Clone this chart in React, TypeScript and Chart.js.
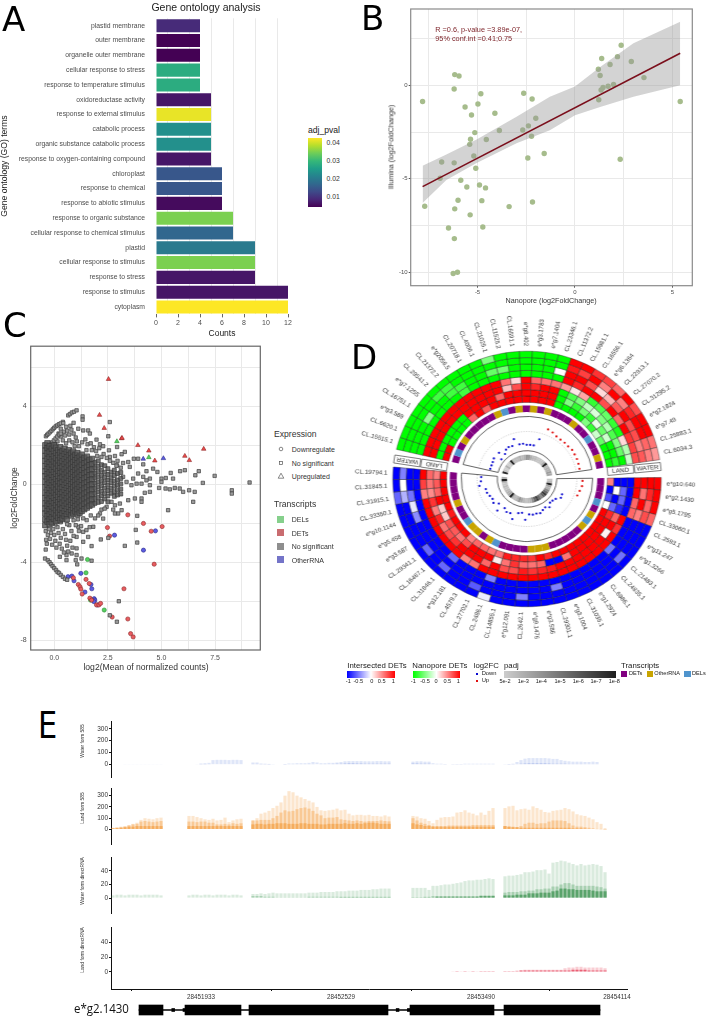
import React, { useEffect, useRef } from "react";
import { Chart, registerables } from "chart.js";
Chart.register(...registerables);
Chart.defaults.font.family = '"Liberation Sans", Arial, sans-serif';
Chart.defaults.animation = false as any;

/* ---------- Panel A ---------- */
const goTerms = ["plastid membrane","outer membrane","organelle outer membrane","cellular response to stress","response to temperature stimulus","oxidoreductase activity","response to external stimulus","catabolic process","organic substance catabolic process","response to oxygen-containing compound","chloroplast","response to chemical","response to abiotic stimulus","response to organic substance","cellular response to chemical stimulus","plastid","cellular response to stimulus","response to stress","response to stimulus","cytoplasm"];
const goCounts = [4,4,4,4,4,5,5,5,5,5,6,6,6,7,7,9,9,9,12,12];
const goPvals = [0.009,0.0044,0.0044,0.0282,0.0282,0.0067,0.0416,0.0236,0.0236,0.0067,0.0148,0.0148,0.0055,0.0351,0.0171,0.0201,0.0351,0.0067,0.0067,0.0428];
const viridisStops = ["#440154","#482878","#3E4A89","#31688E","#26828E","#1F9E89","#35B779","#6DCD59","#B4DE2C","#FDE725"];

/* ---------- Panel B ---------- */
const bNanopore = [-7.82,-6.17,-5.95,-6.2,-4.83,-5.64,-4.98,-5.31,-4.11,-2.63,-2.2,-2.01,-3.88,-5.14,-5.36,-5.4,-4.55,-2.68,-2.39,-2.23,-5.19,-5.09,-2.42,-1.58,-6.84,-6.2,-6.92,-5.86,-5.55,-4.9,-4.59,-6.0,-4.78,-7.71,-6.17,-3.38,-2.18,-5.38,-6.49,-4.73,-6.19,-6.25,-6.03,2.37,2.18,1.37,1.8,2.89,1.2,1.29,3.54,1.98,1.7,1.44,1.34,1.22,2.32,5.4];
const bIllumina = [-0.87,0.57,0.5,-0.2,-0.45,-1.16,-1.0,-1.59,-1.5,-0.43,-0.73,-1.76,-2.42,-2.53,-2.89,-3.16,-2.9,-2.39,-2.17,-2.73,-3.78,-4.44,-3.89,-3.65,-4.1,-4.15,-4.97,-5.08,-5.44,-5.33,-5.49,-6.15,-6.17,-6.47,-6.61,-6.49,-6.24,-6.93,-7.63,-7.58,-8.2,-10.07,-10.0,2.14,1.53,1.43,1.11,1.27,0.86,0.52,0.41,0.04,-0.05,-0.12,-0.25,-0.77,-3.96,-0.87];
const fitX = [-7.82,5.4];
const fitY = [-5.42,1.71];
const bandX = [-7.82,-6.6,-5.07,-3,-1.29,0,1.29,3,5.4];
const bandHigh = [-4.3,-3.7,-2.92,-1.68,-0.61,-0.07,0.98,2.25,3.4];
const bandLow = [-6.3,-5.06,-4.17,-3.1,-2.4,-1.6,-1.16,-0.61,0];

/* ---------- Panel C ---------- */
const cloudX = [-0.42,-0.32,-0.22,-0.12,-0.02,0.08,0.18,0.28,0.38,0.48,0.58,0.68,0.78,0.88,0.98,1.08,1.18,1.28,1.4,1.52,1.64,1.76,1.9,2.05,2.2,2.35,2.5,2.65,2.8,2.95,3.1];
const cloudY = [
[2.0,1.72,1.45,1.2,0.93,0.66,0.41,0.12,-0.15,-0.44,-0.7,-0.98,-1.25,-1.5,-1.8,-2.1],
[2.1,1.85,1.58,1.3,1.05,0.78,0.52,0.27,-0.02,-0.3,-0.57,-0.83,-1.1,-1.37,-1.62,-1.92],
[1.95,1.66,1.4,1.12,0.88,0.6,0.33,0.08,-0.2,-0.47,-0.74,-1.0,-1.28,-1.55,-1.8,-2.05],
[1.82,1.55,1.27,1.0,0.74,0.48,0.2,-0.06,-0.33,-0.6,-0.88,-1.14,-1.42,-1.7,-1.96],
[2.0,1.7,1.42,1.16,0.9,0.62,0.36,0.1,-0.17,-0.43,-0.7,-0.97,-1.22,-1.5,-1.78],
[1.88,1.6,1.33,1.06,0.8,0.53,0.26,0,-0.28,-0.55,-0.82,-1.08,-1.35,-1.6,-1.9],
[1.75,1.48,1.22,0.95,0.68,0.42,0.15,-0.12,-0.39,-0.65,-0.92,-1.2,-1.46,-1.72],
[1.9,1.62,1.36,1.1,0.83,0.57,0.3,0.04,-0.23,-0.5,-0.77,-1.03,-1.3,-1.58,-1.84],
[1.7,1.45,1.18,0.9,0.64,0.38,0.12,-0.15,-0.42,-0.68,-0.95,-1.22,-1.5,-1.76],
[1.82,1.55,1.28,1.02,0.76,0.5,0.24,-0.03,-0.3,-0.57,-0.84,-1.1,-1.38,-1.64],
[1.65,1.38,1.12,0.85,0.6,0.33,0.07,-0.2,-0.46,-0.72,-1.0,-1.26,-1.54,-1.8],
[1.75,1.48,1.22,0.96,0.7,0.43,0.17,-0.1,-0.36,-0.63,-0.9,-1.16,-1.44],
[1.58,1.32,1.05,0.8,0.53,0.27,0,-0.26,-0.53,-0.8,-1.06,-1.33,-1.6],
[1.68,1.4,1.14,0.88,0.62,0.36,0.1,-0.16,-0.43,-0.7,-0.96,-1.22,-1.5],
[1.5,1.24,0.98,0.72,0.46,0.2,-0.06,-0.33,-0.6,-0.86,-1.12,-1.4],
[1.6,1.33,1.07,0.8,0.55,0.28,0.02,-0.24,-0.5,-0.77,-1.04,-1.3,-1.55],
[1.42,1.16,0.9,0.64,0.38,0.12,-0.14,-0.4,-0.67,-0.93,-1.2,-1.46],
[1.52,1.25,1.0,0.72,0.47,0.2,-0.05,-0.32,-0.58,-0.84,-1.1,-1.37],
[1.35,1.08,0.82,0.56,0.3,0.04,-0.22,-0.48,-0.75,-1.0,-1.28],
[1.42,1.15,0.9,0.63,0.37,0.1,-0.15,-0.42,-0.68,-0.94,-1.2],
[1.25,0.98,0.72,0.46,0.2,-0.06,-0.32,-0.58,-0.85,-1.1],
[1.3,1.03,0.78,0.5,0.25,0,-0.27,-0.52,-0.78,-1.04],
[1.12,0.85,0.58,0.33,0.06,-0.2,-0.46,-0.72,-0.98],
[1.2,0.92,0.65,0.38,0.12,-0.14,-0.4,-0.68,-0.93],
[1.0,0.72,0.45,0.18,-0.08,-0.35,-0.6,-0.88],
[0.95,0.62,0.35,0.08,-0.2,-0.48,-0.75],
[0.8,0.5,0.22,-0.05,-0.32,-0.6,-0.9],
[0.62,0.34,0.08,-0.2,-0.46],
[0.72,0.45,0.16,-0.1,-0.38,-0.62],
[0.55,0.22,-0.04,-0.3,-0.55],
[0.6,0.3,0.02,-0.25,-0.5],
];
const streakPts = [[-0.39,2.46],[-0.33,2.54],[-0.27,2.6],[-0.2,2.67],[-0.13,2.75],[-0.06,2.83],[0,2.9],[0.07,2.97],[0.14,3.02],[0.22,3.08],[0.3,3.12],[0.42,3.14],[0.65,3.53],[0.73,3.6],[0.82,3.68],[0.92,3.72],[1.04,3.79],[-0.36,1.83],[-0.3,1.9],[-0.24,1.98],[-0.18,2.05],[-0.1,2.15],[-0.02,2.25],[0.06,2.35],[0.14,2.45],[0.22,2.55],[0.3,2.6],[-0.43,-3.81],[-0.3,-3.9],[-0.22,-4.0],[-0.15,-4.1],[-0.08,-4.2],[0,-4.3],[0.08,-4.4],[0.15,-4.5],[0.22,-4.55],[0.3,-4.65],[0.4,-4.75],[0.5,-4.85],[0.6,-4.9]];
const sparsePts = [[1.32,3.48],[1.32,3.31],[2.59,3.19],[2.52,2.46],[1.12,2.85],[1.35,2.76],[1.58,2.76],[1.66,2.6],[1.97,2.29],[2.13,2.05],[2.28,1.95],[2.55,1.74],[2.93,1.91],[3.29,1.66],[3.14,1.54],[2.83,1.45],[2.59,1.4],[3.71,1.31],[3.45,1.14],[3.21,1.09],[4.3,0.67],[4.15,1.02],[4.61,0.8],[4.81,0.63],[3.91,1.31],[3.52,0.89],[2.93,0.97],[5.43,0.58],[5.2,0.32],[5,0.29],[5,0.12],[5.54,0.29],[4.89,-0.19],[5.19,-0.22],[5.39,-0.26],[5.62,-0.19],[5.85,-0.22],[6.01,-0.39],[6.29,-0.31],[6.55,-0.39],[6.48,-0.9],[5.87,0.67],[6.09,0.72],[6.58,0.46],[6.74,0.67],[6.93,0.07],[7.48,0.43],[8.28,-0.31],[8.28,-0.48],[9.11,0.09],[5.31,-1.33],[3.87,-1.62],[3.8,-2.34],[3.87,-2.99],[3.29,-3.16],[2.17,-2.83],[2.52,-2.75],[1.74,-3.17],[4.46,-0.05],[4.46,0.29],[4.3,0.2],[4.15,0.38],[4.07,0.03],[3.91,0.55],[3.68,0.29],[3.84,0.03],[3.6,-0.05],[3.37,0.12],[3.21,0.38],[4.46,-0.39],[4.22,-0.44],[4.07,-0.73],[4.07,-0.9],[3.76,-0.73],[3.45,-0.82],[3.06,-0.99],[2.83,-1.08],[2.67,-0.9],[2.44,-1.16],[2.13,-1.5],[2.75,-1.3],[2.28,-1.76],[1.82,-2.18],[1.51,-1.84],[1.12,-2.18],[1.35,-2.44],[1.04,-2.7],[1.58,-2.7],[1.35,-2.95],[2.98,-1.5],[3.14,-1.33],[2.83,-1.5],[0.26,-3.72],[0.57,-3.63],[0.57,-3.89],[0.81,-3.55],[1.04,-3.29],[1.04,-3.63],[1.0,-3.89],[1.27,-3.81],[1.07,-4.11],[1.74,-3.92],[3.01,-6.0],[2.59,-6.72],[2.92,-7.05],
[0.2,2.6],[0.3,2.45],[0.45,2.7],[0.5,2.5],[0.6,2.75],[0.7,2.55],[0.8,2.8],[0.9,2.6],[1.0,2.4],[1.05,2.2],[0.4,2.25],[0.55,2.1],[0.7,2.25],[0.85,2.15],[0.95,1.95],[1.15,1.95],[1.3,2.15],[1.45,2.3],[1.55,2.05],[1.7,2.1],[1.85,1.9],[1.95,1.7],[2.1,1.85],[1.75,1.75],[1.5,1.75],[2.3,1.55],[2.45,1.35],[2.6,1.2],[2.2,1.4],[2.75,1.1],[2.95,1.2],[2.9,0.95],[3.1,0.85],[2.0,1.45],[0.15,2.2],[0.05,2.05],[0.4,3.2],[0.75,3.0],[0.9,3.15],[0.3,2.85],[0.55,2.95],
[-0.4,-2.4],[-0.3,-2.6],[-0.38,-2.85],[-0.25,-2.3],[-0.15,-2.5],[-0.2,-2.8],[-0.35,-3.05],[-0.4,-3.35],[-0.1,-3.1],[-0.05,-2.3],[0,-2.6],[0.05,-2.9],[0.1,-3.25],[0.15,-2.2],[0.2,-2.5],[0.3,-2.75],[0.25,-3.05],[0.35,-3.3],[0.4,-2.3],[0.5,-2.55],[0.55,-2.85],[0.6,-3.15],[0.45,-3.5],[0.7,-2.1],[0.8,-2.4],[0.9,-2.65],[0.75,-2.9],[0.85,-3.25],[0.65,-3.45],[1.0,-2.1],[1.15,-2.4],[1.25,-2.15],[1.5,-2.35],[1.65,-2.2],[1.9,-1.75],[2.05,-1.6],[2.2,-1.3],[2.35,-1.25],[1.7,-1.6],[1.35,-1.75],[1.1,-1.8],[0.9,-1.85],[0.6,-2.05],[0.3,-1.95],[0.05,-2.05]];
const upRed = [[2.53,5.39],[2.11,3.55],[2.33,2.88],[3.14,2.35],[3.16,2.37],[3.9,2.0],[4.41,1.72],[4.69,1.21],[6.09,1.45],[6.3,1.23],[6.97,1.81]];
const upGreen = [[2.92,2.2],[4.41,1.38]];
const upBlue = [[4.15,1.3],[5.09,1.33]];
const downRed = [[3.43,-1.57],[4.16,-2.01],[5.03,-2.17],[4.52,-2.41],[2.58,-2.66],[2.48,-2.22],[4.66,-4.1],[3.25,-5.36],[3.43,-6.91],[3.56,-7.66],[3.68,-7.83],[2.7,-6.81],[0.89,-4.8],[1.12,-5.14],[1.2,-5.26],[1.24,-5.38],[1.3,-5.63],[1.48,-4.88],[1.63,-5.09],[1.66,-5.84],[1.97,-6.19],[2.08,-6.19],[2.16,-6.11],[1.74,-5.94]];
const downBlue = [[2.81,-2.61],[4.16,-3.38],[4.72,-2.39],[0.64,-4.74],[0.82,-4.71],[0.92,-4.95],[1.24,-4.57],[1.71,-5.14],[1.75,-5.36],[1.43,-5.53],[1.86,-5.87],[1.89,-5.94],[1.85,-6.02],[2.02,-6.19]];
const downGreen = [[1.55,-3.86],[1.48,-4.54],[2.33,-6.45],[1.69,-5.94]];

/* ---------- Panel D ---------- */
const topLabels = ["CL.15515.1","CL.6620.1","e*g3.589","CL.16751.1","e*g7.1255","CL.29541.2","CL.21372.2","e*g2056.5","CL.20718.1","CL.4006.1","CL.21025.1","CL.11525.2","CL.16591.1","e*g8.402","e*g3.1783","e*g7.1404","CL.23346.1","CL.11372.2","CL.15981.1","CL.16556.1","e*g6.1364","CL.22913.1","CL.27070.2","CL.31295.2","e*g2.1824","e*g7.49","CL.25883.1","CL.6034.3"];
const bottomLabels = ["e*g10.640","e*g2.1430","e*g5.1795","CL.33060.1","CL.2593.1","e*g11.247","e*g1.3266","CL.21483.1","CL.24835.1","CL.6986.1","e*g1.2924","CL.31035.1","e*g3.1004","CL.29301.1","e*g3.586","e*g9.1476","CL.2642.1","e*g12.091","CL.14855.1","CL.2486.1","CL.27702.1","CL.4579.3","e*g12.181","CL.31846.1","CL.16467.1","CL.29341.1","e*g3.587","e*g5.458","e*g10.1144","CL.33350.1","CL.31915.1","CL.31845.1","CL.19794.1"];
const topHeat = [
[-1,-1,-1,-1,1,1,-1,1],[-1,-1,-1,-1,1,1,-1,1],[-1,-1,-1,-1,1,1,-1,-1],[-1,-1,-0.45,-1,1,1,-1,-1],[-1,-1,-1,-1,1,1,-1,-1],[-1,-0.75,-1,-1,1,1,-1,-1],[-1,-0.75,-0.75,-1,1,1,1,0.6],[-1,-1,-0.75,-0.75,1,1,1,1],[-1,-1,-1,-1,1,1,1,0.65],[-1,-1,-1,-1,1,1,1,1],[-0.5,-1,-0.6,-1,1,1,0.6,1],[-1,-1,-0.55,-1,0.55,0.25,1,1],[-1,-1,-1,-1,0.15,0.7,1,1],[-1,-1,-1,-1,1,1,1,1],[-1,-1,-1,-1,0.6,0.85,1,1],[-1,-1,-1,-1,0.55,1,1,1],[-1,-1,0,-1,0.55,1,1,1],
[1,0.9,1,1,0.4,-1,-1,-1],[1,0.75,1,0.85,0.1,-0.7,-0.5,-1],[0.8,1,0.7,1,0.35,-0.5,-0.8,-1],[0.75,0.5,0.15,1,-0.8,-0.25,-0.55,-1],[0.6,1,0.3,0.7,-0.7,-0.15,-0.8,-0.5],[1,0.5,0.65,1,-0.6,-0.5,-0.1,-0.8],[0.7,0.85,1,0.6,-0.8,-0.3,-0.6,-0.2],[1,1,0.7,1,-0.9,-0.7,-0.2,-0.6],[1,1,0.7,0.8,0.15,-0.5,-1,-1],[0.55,0.6,0.5,0.75,-0.3,-0.6,-1,-1],[0.4,0.5,0.65,0.7,-0.2,-1,-0.8,-1]];
const bottomHeat = [
[1,1,1,1,-1,-1,-1,0.5],[1,0.85,0.55,1,-1,-0.6,0,-1],[1,0.6,1,0.6,-1,-0.6,-1,-0.7],[0.6,0.7,0.5,0.6,-1,-0.85,-0.6,0],[-1,-1,-1,-1,1,0.6,0.85,1],[-1,-1,-1,-1,0.8,1,1,1],[-1,-1,-1,-1,1,0.05,1,1],[-1,-0.55,-1,-0.55,1,1,1,1],[-1,-1,-1,-1,1,1,1,1],[-1,-1,-1,-1,1,1,1,1],[-1,-1,-1,-1,1,1,1,1],[-1,-1,-1,-1,1,1,0.55,1],[-1,-1,-1,-1,1,1,-1,1],[-1,-1,-0.5,-1,1,0.9,-1,0.85],[-1,-1,-1,-1,1,0.85,0.6,1],[-1,-1,-1,-1,1,0.8,0.55,0.8],[-1,-0.5,-1,-1,1,0.9,0.6,0.85],[-1,-1,-1,-1,1,0.7,0.8,0.85],[-1,-1,-1,-1,1,0.7,0.55,0.9],[-0.08,-1,-1,-0.5,1,1,0.08,0.55],[-1,-0.65,-1,-1,1,0.6,1,0.55],[-1,-1,-1,-1,0.55,1,1,0.6],[-1,-1,-1,-1,0.5,1,1,0.6],[-1,-0.6,-1,-0.6,1,1,0.7,0.5],[-1,-1,-1,-1,1,0.8,0.55,1],[-1,-0.6,-1,-1,1,0.7,0.65,1],[-1,-1,-1,-1,1,0.55,0.7,1],[-1,-1,-1,-1,1,0.85,0.2,0.9],[-1,-1,-0.45,-1,1,0.5,0.2,1],[-1,-1,-0.1,-1,1,0.8,1,1],[-0.6,-0.3,-0.55,-1,0.5,0.45,0.6,1],[-1,0,-1,-1,0.75,0.55,0.65,1],[-1,-0.5,-1,-1,1,0.6,0.5,1]];
const topTypes = "PBPGPPPPPGBPGPGPGPPPGPPBPPGP".split("");
const bottomTypes = "PPPBPGBGPPPPPGGGPPPPBGPGGBPPGPPPP".split("");
const topPadj = [0.95,0.2,0.15,0.3,0.15,0.2,1,0.25,0.25,0.25,0.3,0.25,0.3,0.45,0.4,0.3,0.25,0.25,0.2,0.2,0.2,0.3,1,0.25,0.3,0.3,0.4,0.35];
const bottomPadj = [0.2,0.25,1,0.35,0.3,0.5,0.65,0.9,0.7,0.5,0.65,0.85,0.7,0.5,0.3,0.25,0.2,0.25,0.35,0.45,0.3,0.25,0.3,1,0.35,0.3,0.25,0.2,0.25,0.2,0.25,1,0.3];
const topDots = [115,115,116,119,99,118,103,112,115,113,132,112,112,108,108,108,131,169,166,161,160,161,161,164,163,163,162,161];
const bottomDots = [167,167,163,160,116,118,107,103,102,112,105,109,115,113,114,112,129,108,111,134,119,121,114,134,115,126,121,124,128,128,145,139,138];
const topUp = 17; // dots from this top column on are up-regulated
const bottomUp = 4; // dots before this bottom column are up-regulated

/* ---------- Panel E ---------- */
const xTickLabels: Record<number, string> = { 22: "28451933", 57: "28452529", 92: "28453490", 126: "28454114" };
const w585a = [[4,4,0,3,3,3,3,3,3,3,3,3,3],[0,0,3,10,12,15,38,40,40,40,38,40,40,38],[18,18,10,8,6,2,0,0,3,10,10,12,12,12,15,22,18,12,12,15,15,18,22,28,30,30,30,30,28,28,28,30,30,28,28],[25,28,28,25,25,12,8,8,5,0,4,5,5,8,8,8,8,8,8,8,8],[2,3,8,22,38,50,55,55,55,55,55,52,48,48,38,32,28,25,25,25,22,22,25,22,0,0]];
const w585b = [[0,0,0,0,0,0,0,0,0,0,0,0,0],[0,0,0,2,2,3,4,4,4,4,4,4,4,4],[6,6,2,2,1,0,0,0,1,3,3,3,3,3,3,5,4,3,3,5,6,8,8,10,12,12,10,10,8,8,8,8,8,8,8],[10,10,8,8,8,5,3,3,2,0,2,2,2,3,3,3,3,3,3,3,3],[0,1,2,5,8,10,12,12,12,12,12,10,8,8,8,8,6,6,6,6,5,5,5,5,0,0]];
const l585a = [[15,20,25,30,40,50,60,85,100,95,90,100,105],[120,120,110,100,90,85,95,80,85,105,65,80,90,95],[80,100,140,150,165,190,210,240,300,340,330,300,285,270,255,240,200,170,165,170,175,185,170,175,140,125,130,130,125,130,120,120,115,125,115],[120,115,100,95,75,55,85,105,110,110,115,150,155,170,150,140,125,150,130,165,190],[190,205,210,170,180,185,175,205,190,175,155,150,165,170,175,190,180,160,135,125,120,105,90,65,50,10]];
const l585b = [[12,15,20,25,35,45,50,70,75,70,65,70,75],[70,70,65,70,70,60,60,45,45,50,45,55,50,55],[80,80,85,85,85,100,120,150,170,160,165,180,190,195,185,165,140,125,100,105,105,110,90,85,80,75,80,75,70,75,75,75,80,75,72],[100,80,60,50,40,30,30,30,30,35,35,35,35,35,35,40,40,40,40,40,40],[30,25,25,20,30,50,60,60,50,55,55,70,80,80,80,75,55,35,25,25,20,15,10,5,5,2]];
const l585c = [[10,12,15,20,25,25,30,30,30,30,30,30,30],[30,30,30,30,30,30,30,30,30,30,30,30,30,30],[45,50,50,45,50,50,55,55,55,50,50,50,55,55,50,50,50,45,45,50,50,50,50,55,50,50,55,50,55,60,60,55,50,50,50],[55,45,40,30,30,25,25,25,25,25,25,25,25,25,25,25,25,25,25,25,25],[30,25,20,20,15,15,15,15,15,15,15,15,15,15,15,15,15,10,10,10,8,5,4,3,2,1]];
const wDrsA = [[4,5,5,4,5,5,5,4,5,5,5,5,4],[4,5,5,4,5,5,4,5,5,5,4,5,5,4],[6,6,7,6,7,8,7,7,7,7,7,7,7,7,8,8,8,9,9,9,9,10,10,10,11,11,11,12,12,12,13,13,14,14,14],[15,15,15,15,12,18,18,19,20,20,21,22,23,25,26,26,27,27,28,29,28],[32,33,33,34,35,38,38,39,41,41,42,36,52,53,55,54,52,50,48,50,48,49,50,49,47,38]];
const wDrsB = [[0,0,0,0,0,0,0,0,0,0,0,0,0],[0,0,0,0,0,0,0,0,0,0,0,0,0,0],[3,3,3,2,2,2,1,1,1,1,1,1,1,1,2,2,2,2,2,2,2,2,2,2,2,2,2,2,2,2,2,2,2,2,2],[1,1,1,2,2,3,3,3,3,3,3,3,3,3,3,3,3,4,4,4,4],[8,9,9,9,10,10,11,11,13,13,14,14,17,17,20,22,22,20,18,18,18,18,18,17,16,14]];
const wDrsC = [[0,0,0,0,0,0,0,0,0,0,0,0,0],[0,0,0,0,0,0,0,0,0,0,0,0,0,0],[0,0,0,0,0,0,0,0,0,0,0,0,0,0,0,0,0,0,0,0,0,0,1,1,1,1,1,1,1,1,1,1,1,1,1],[1,1,1,1,1,1,2,2,2,2,2,2,2,2,2,2,2,3,3,3,3],[4,4,4,5,5,5,7,7,7,8,8,8,10,11,14,14,13,13,12,12,12,12,11,10,10,10]];
const lDrsA = [[0,0,0,0,0,0,0,0,0,0,0,0,0],[0,0,0,0,0,0,0,0,0,0,0,0,0,0],[0,0,0,0,0,0,0,0,0,0,0,0,0,0,0,0,0,0,0,0,0,0,0,0,0,0,0,0,0,0,0,0,0,0,0],[0,0,0,0,0,0,0,0,0,0,1,1,1,1,1,1,1,1,1,1,1],[1,1,1,2,2,3,3,3,3,3,3,3,3,3,3,5,6,6,7,7,6,6,6,6,6,5]];
const lDrsB = [[0,0,0,0,0,0,0,0,0,0,0,0,0],[0,0,0,0,0,0,0,0,0,0,0,0,0,0],[0,0,0,0,0,0,0,0,0,0,0,0,0,0,0,0,0,0,0,0,0,0,0,0,0,0,0,0,0,0,0,0,0,0,0],[0,0,0,0,0,0,0,0,0,0,0,1,0,1,0,1,0,1,1,1,1],[1,1,1,1,2,2,2,2,2,2,2,2,2,2,2,2,2,3,3,3,3,2,2,2,2,2]];
const exons = [[7,13],[18.5,32.5],[34.5,69.25],[74.75,95.75],[98.25,122.25]];
const intronSpan = [7,122.25];
const intronMarks = [[15.2,15.9],[18,18.5],[71.3,72],[74.1,74.75]];

/* ---------- helpers ---------- */
const hex = (h: string) => [1, 3, 5].map((i) => parseInt(h.slice(i, i + 2), 16));
const viridis = (p: number) => {
  const t = Math.min(1, Math.max(0, (p - 0.0044) / 0.0384)) * (viridisStops.length - 1);
  const i = Math.min(Math.floor(t), viridisStops.length - 2);
  const a = hex(viridisStops[i]), b = hex(viridisStops[i + 1]), f = t - i;
  return `rgb(${a.map((v, k) => Math.round(v + (b[k] - v) * f)).join(",")})`;
};
const mix = (from: number[], v: number) => {
  const t = Math.abs(v);
  return `rgb(${from.map((c) => Math.round(255 + (c - 255) * t)).join(",")})`;
};
const RED = [255, 0, 0], GREEN = [0, 255, 0], BLUE = [0, 0, 255];
const typeColor: Record<string, string> = { P: "#800080", G: "#C8A400", B: "#4F94CD" };
const fix = (size: number) => (s: any) => {
  if (s.isHorizontal()) s.height = size; else s.width = size;
};
const at = (vals: number[]) => (s: any) => { s.ticks = vals.map((value) => ({ value })); };
const panelBorder = (color: string, lw: number) => ({
  id: "panelBorder",
  afterDraw(c: any) {
    const { left, top, width, height } = c.chartArea;
    c.ctx.save(); c.ctx.strokeStyle = color; c.ctx.lineWidth = lw;
    c.ctx.strokeRect(left, top, width, height); c.ctx.restore();
  },
});
const noUi = { legend: { display: false }, tooltip: { enabled: false } };
const GREY = "#4d4d4d";
const GRID = "#e9e9e9";

/* ---------- configs ---------- */
const chartA = () => ({
  type: "bar",
  data: { labels: goTerms, datasets: [{ data: goCounts, backgroundColor: goPvals.map(viridis), barPercentage: 0.88, categoryPercentage: 1 }] },
  options: {
    indexAxis: "y", responsive: false, animation: false, events: [],
    layout: { padding: { top: 18.3, right: 12, left: 0, bottom: 0 } },
    plugins: noUi,
    scales: {
      x: {
        min: 0, max: 12, afterFit: fix(30.6), afterBuildTicks: at([0,1,2,3,4,5,6,7,8,9,10,11,12]),
        border: { display: false },
        grid: { color: (c: any) => (c.tick && c.tick.value % 2 === 1 ? GRID : "rgba(0,0,0,0)"), tickColor: (c: any) => (c.tick && c.tick.value % 2 === 0 ? "#666" : "rgba(0,0,0,0)"), tickLength: 3 },
        ticks: { autoSkip: false, maxRotation: 0, padding: 1, color: GREY, font: { size: 7 }, callback: (v: number) => (v % 2 === 0 ? String(v) : "") },
      },
      y: {
        afterFit: fix(156), border: { display: false }, grid: { display: false },
        ticks: { autoSkip: false, padding: 3, color: GREY, font: { size: 6.8 } },
      },
    },
  },
});

const chartB = () => ({
  type: "scatter",
  data: {
    datasets: [
      { data: fitX.map((x, i) => ({ x, y: fitY[i] })), showLine: true, borderColor: "#7B0F1C", borderWidth: 1.6, pointRadius: 0, order: 0 },
      { data: bandX.map((x, i) => ({ x, y: bandHigh[i] })), showLine: true, borderWidth: 0, pointRadius: 0, fill: "+1", backgroundColor: "rgba(150,150,150,0.42)", order: 1 },
      { data: bandX.map((x, i) => ({ x, y: bandLow[i] })), showLine: true, borderWidth: 0, pointRadius: 0, order: 2 },
      { data: bNanopore.map((x, i) => ({ x, y: bIllumina[i] })), backgroundColor: "#A6BC8C", borderWidth: 0, pointRadius: 2.7, order: 3 },
    ],
  },
  options: {
    responsive: false, animation: false, events: [],
    layout: { padding: { top: 9, right: 14.7, left: 0, bottom: 0 } },
    plugins: noUi,
    scales: {
      x: {
        min: -8.43, max: 6.02, afterFit: fix(24.3), afterBuildTicks: at([-7.5,-5,-2.5,0,2.5,5]),
        grid: { color: GRID, tickColor: (c: any) => (c.tick && c.tick.value % 5 === 0 ? "#555" : "rgba(0,0,0,0)"), tickLength: 2 },
        border: { display: false },
        ticks: { autoSkip: false, maxRotation: 0, padding: 1, color: GREY, font: { size: 6 }, callback: (v: number) => (v % 5 === 0 ? String(v) : "") },
      },
      y: {
        min: -10.72, max: 4.08, afterFit: fix(30.7), afterBuildTicks: at([-10,-7.5,-5,-2.5,0,2.5]),
        grid: { color: GRID, tickColor: (c: any) => (c.tick && c.tick.value % 5 === 0 ? "#555" : "rgba(0,0,0,0)"), tickLength: 2 },
        border: { display: false },
        ticks: { autoSkip: false, padding: 1, color: GREY, font: { size: 6 }, callback: (v: number) => (v % 5 === 0 ? String(v) : "") },
      },
    },
  },
  plugins: [panelBorder("#8a8a8a", 1.2)],
});

const pts = (arr: number[][]) => arr.map(([x, y]) => ({ x, y }));
const chartC = () => {
  const cloud: { x: number; y: number }[] = [];
  cloudX.forEach((x, i) => cloudY[i].forEach((y) => cloud.push({ x, y })));
  const grey = { backgroundColor: "#9a9a9a", borderColor: "#3f3f3f", borderWidth: 0.7, pointStyle: "rect", pointRadius: 2.4 };
  const col = (data: number[][], fill: string, edge: string, style: string, r: number) => ({
    data: pts(data), backgroundColor: fill, borderColor: edge, borderWidth: 0.6, pointStyle: style, pointRadius: r,
  });
  return {
    type: "scatter",
    data: {
      datasets: [
        {
          data: cloud, backgroundColor: "rgba(85,85,85,0.8)", borderColor: "#3a3a3a", borderWidth: 0.7, pointStyle: "rect",
          pointRadius: (c: any) => (c.raw && c.raw.x < 1.8 ? 3.8 : 2.8),
        },
        { data: pts(streakPts), ...grey },
        { data: pts(sparsePts), ...grey },
        col(downRed, "#E85C60", "#8a2a2a", "circle", 2.1),
        col(downBlue, "#5C5CE0", "#2a2a8a", "circle", 2.1),
        col(downGreen, "#55D060", "#2a8a30", "circle", 2.1),
        col(upRed, "#EE4A4A", "#8a2a2a", "triangle", 2.6),
        col(upGreen, "#55D060", "#2a8a30", "triangle", 2.6),
        col(upBlue, "#5C5CE0", "#2a2a8a", "triangle", 2.6),
      ],
    },
    options: {
      responsive: false, animation: false, events: [],
      layout: { padding: { top: 5.7, right: 4.3, left: 0, bottom: 0 } },
      plugins: noUi,
      scales: {
        x: {
          min: -1.1, max: 9.61, afterFit: fix(25), afterBuildTicks: at([0,1.25,2.5,3.75,5,6.25,7.5,8.75]),
          grid: { color: GRID, tickColor: "rgba(0,0,0,0)", tickLength: 2 }, border: { display: false },
          ticks: { autoSkip: false, maxRotation: 0, padding: 2, color: GREY, font: { size: 7 }, callback: (v: number) => (v % 2.5 === 0 ? v.toFixed(1) : "") },
        },
        y: {
          min: -8.5, max: 7.08, afterFit: fix(30.7), afterBuildTicks: at([-8,-6,-4,-2,0,2,4,6]),
          grid: { color: GRID, tickColor: "rgba(0,0,0,0)", tickLength: 2 }, border: { display: false },
          ticks: { autoSkip: false, padding: 2, color: GREY, font: { size: 7 }, callback: (v: number) => (v % 4 === 0 ? String(v) : "") },
        },
      },
    },
    plugins: [panelBorder("#666", 1.2)],
  };
};

/* circular heatmap geometry, in clockwise degrees from 12 o'clock */
const gapCells = 1.42;
const cellDeg = 360 / (topHeat.length + bottomHeat.length + 2 * gapCells);
const startDeg = -76.6;
const topTheta = (i: number) => startDeg + (i + 0.5) * cellDeg;
const bottomTheta = (i: number) => startDeg + (topHeat.length + gapCells + i + 0.5) * cellDeg;
const ringData = () => [...topHeat.map(() => 1), gapCells, ...bottomHeat.map(() => 1), gapCells];
const TRANSPARENT = "rgba(0,0,0,0)";
const ringColors = (a: string[], b: string[]) => [...a, TRANSPARENT, ...b, TRANSPARENT];
const ringBorder = (n: number) => [...topHeat.map(() => n), 0, ...bottomHeat.map(() => n), 0];
const spacer = (w: number) => ({ data: [1], backgroundColor: [TRANSPARENT], borderWidth: 0, weight: w });
const greyOf = (v: number) => { const g = Math.round(238 - 208 * v); return `rgb(${g},${g},${g})`; };

const ring = (R: number, th1: number, th2: number) => {
  return [R, ((th1 - 90) * Math.PI) / 180, ((th2 - 90) * Math.PI) / 180] as const;
};
const dDecor = {
  id: "dDecor",
  afterDatasetsDraw(c: any) {
    const ctx = c.ctx;
    const cx = (c.chartArea.left + c.chartArea.right) / 2, cy = (c.chartArea.top + c.chartArea.bottom) / 2;
    ctx.save();
    // dotted zero circle of the log2FC track
    ctx.strokeStyle = "#9a9a9a"; ctx.lineWidth = 0.5; ctx.setLineDash([1, 1.5]);
    [[topTheta(0) - cellDeg / 2, topTheta(27) + cellDeg / 2], [bottomTheta(0) - cellDeg / 2, bottomTheta(32) + cellDeg / 2]].forEach(([a, b]) => {
      const [R, s, e] = ring(47.5, a, b);
      ctx.beginPath(); ctx.arc(cx, cy, R, s, e); ctx.stroke();
    });
    ctx.setLineDash([]);
    // radial labels
    ctx.fillStyle = "#333"; ctx.font = '6px "Liberation Sans"'; ctx.textBaseline = "middle";
    const put = (label: string, th: number) => {
      const t = ((th % 360) + 360) % 360;
      const rad = ((th - 90) * Math.PI) / 180;
      ctx.save();
      ctx.translate(cx + 133 * Math.cos(rad), cy + 133 * Math.sin(rad));
      if (t < 180) { ctx.rotate(rad); ctx.textAlign = "left"; }
      else { ctx.rotate(rad + Math.PI); ctx.textAlign = "right"; }
      ctx.fillText(label, 0, 0);
      ctx.restore();
    };
    topLabels.forEach((l, i) => put(l, topTheta(i)));
    bottomLabels.forEach((l, i) => put(l, bottomTheta(i)));
    // sector boxes
    const box = (label: string, th: number, r0: number, r1: number) => {
      const rad = ((th - 90) * Math.PI) / 180;
      ctx.save(); ctx.translate(cx, cy); ctx.rotate(rad);
      ctx.strokeStyle = "#333"; ctx.lineWidth = 0.6; ctx.fillStyle = "#fff";
      ctx.fillRect(r0, -4, r1 - r0, 8); ctx.strokeRect(r0, -4, r1 - r0, 8);
      ctx.fillStyle = "#333"; ctx.textAlign = "center"; ctx.font = '6px "Liberation Sans"';
      ctx.fillText(label, (r0 + r1) / 2, 0.4);
      ctx.restore();
    };
    box("LAND", 84.4, 77, 102);
    box("WATER", 84.4, 103, 128);
    box("LAND", 279, 77, 102);
    box("WATER", 279, 103, 128);
    ctx.restore();
  },
};

const chartD = () => {
  const heat = topHeat[0].map((_, row) => ({
    data: ringData(),
    backgroundColor: ringColors(
      topHeat.map((c) => mix(c[row] < 0 ? GREEN : RED, c[row])),
      bottomHeat.map((c) => mix(c[row] < 0 ? BLUE : RED, c[row]))
    ),
    borderColor: "#222", borderWidth: ringBorder(0.4), weight: 19.25,
  }));
  return {
    type: "doughnut",
    data: {
      datasets: [
        ...heat,
        spacer(9),
        { data: ringData(), backgroundColor: ringColors(topTypes.map((t) => typeColor[t]), bottomTypes.map((t) => typeColor[t])), borderWidth: 0, weight: 20 },
        spacer(13),
        { data: [topHeat.length, gapCells, bottomHeat.length, gapCells], backgroundColor: ["#fff", TRANSPARENT, "#fff", TRANSPARENT], borderColor: "#222", borderWidth: [0.7, 0, 0.7, 0], weight: 103 },
        spacer(12),
        { data: ringData(), backgroundColor: ringColors(topPadj.map(greyOf), bottomPadj.map(greyOf)), borderWidth: 0, weight: 16 },
      ],
    },
    options: {
      responsive: false, animation: false, events: [], rotation: startDeg, circumference: 360, cutout: "14.84%",
      layout: { padding: 52 }, plugins: noUi,
    },
    plugins: [dDecor],
  };
};
const chartDDots = () => {
  const polar = (r: number, th: number) => ({ x: r * Math.sin((th * Math.PI) / 180), y: r * Math.cos((th * Math.PI) / 180) });
  const blue = [
    ...topDots.map((r, i) => (i < topUp ? polar(r, topTheta(i)) : null)),
    ...bottomDots.map((r, i) => (i >= bottomUp ? polar(r, bottomTheta(i)) : null)),
  ].filter(Boolean);
  const red = [
    ...topDots.map((r, i) => (i >= topUp ? polar(r, topTheta(i)) : null)),
    ...bottomDots.map((r, i) => (i < bottomUp ? polar(r, bottomTheta(i)) : null)),
  ].filter(Boolean);
  return {
    type: "scatter",
    data: { datasets: [
      { data: blue, backgroundColor: "#0a0ad0", borderWidth: 0, pointRadius: 1.1 },
      { data: red, backgroundColor: "#e01010", borderWidth: 0, pointRadius: 1.1 },
    ] },
    options: {
      responsive: false, animation: false, events: [], plugins: noUi,
      scales: { x: { min: -556, max: 556, display: false }, y: { min: -556, max: 556, display: false } },
    },
  };
};

const binCount = 129;
const binLabels = Array.from({ length: binCount }, (_, i) => String(i));
const none = (n: number) => Array.from({ length: n }, () => null);
const bins = (r: number[][]) => [...r[0], ...none(6), ...r[1], ...none(2), ...r[2], ...none(5), ...r[3], ...none(2), ...r[4], ...none(5)];
const track = (layers: { r: number[][]; color: string }[], min: number, max: number, tv: number[], withAxis: boolean) => ({
  type: "bar",
  data: {
    labels: binLabels,
    datasets: layers.map((l) => ({ data: bins(l.r), backgroundColor: l.color, borderWidth: 0, grouped: false, barPercentage: 0.8, categoryPercentage: 1 })),
  },
  options: {
    responsive: false, animation: false, events: [],
    layout: { padding: { left: 0, right: 11, top: 0, bottom: 0 } }, plugins: noUi,
    scales: {
      x: withAxis ? {
        afterFit: fix(14),
        afterBuildTicks: (s: any) => { s.ticks = s.ticks.filter((t: any) => xTickLabels[t.value]); },
        border: { display: true, color: "#111", width: 1 },
        grid: { drawOnChartArea: false, tickLength: 2, tickColor: "#111" },
        ticks: { autoSkip: false, maxRotation: 0, padding: 2, color: "#333", font: { size: 6.3 }, callback: (v: number) => xTickLabels[v] || "" },
      } : { display: false },
      y: {
        min, max, afterFit: fix(33), afterBuildTicks: at(tv),
        border: { display: true, color: "#111", width: 1 },
        grid: { drawOnChartArea: false, tickLength: 2, tickColor: "#111" },
        ticks: { autoSkip: false, padding: 1, color: "#333", font: { size: 6.5 } },
      },
    },
  },
});
const chartGene = () => ({
  type: "bar",
  data: {
    labels: ["gene"],
    datasets: [
      ...exons.map((e) => ({ data: [e], backgroundColor: "#000", barThickness: 10, grouped: false })),
      ...intronMarks.map((e) => ({ data: [e], backgroundColor: "#000", barThickness: 3, grouped: false })),
      { data: [intronSpan], backgroundColor: "#000", barThickness: 1, grouped: false },
    ],
  },
  options: {
    indexAxis: "y", responsive: false, animation: false, events: [],
    layout: { padding: { left: 33, right: 11, top: 0, bottom: 0 } }, plugins: noUi,
    scales: { x: { type: "linear", min: 0, max: binCount, display: false }, y: { display: false } },
  },
});

type Spec = { left: number; top: number; w: number; h: number; make: () => any };
const specs: Spec[] = [
  { left: 0, top: 0, w: 300, h: 345, make: chartA },
  { left: 380, top: 0, w: 327, h: 310, make: chartB },
  { left: 0, top: 340, w: 265, h: 335, make: chartC },
  { left: 78, top: 716.7, w: 560, h: 65, make: () => track([{ r: w585a, color: "rgba(110,140,225,0.22)" }, { r: w585b, color: "rgba(90,120,210,0.3)" }], -104, 357, [0,100,200,300], false) },
  { left: 78, top: 784, w: 560, h: 65.3, make: () => track([{ r: l585a, color: "rgba(245,165,80,0.28)" }, { r: l585b, color: "rgba(245,160,70,0.42)" }, { r: l585c, color: "rgba(240,150,50,0.65)" }], -130, 360, [0,100,200,300], false) },
  { left: 78, top: 852.7, w: 560, h: 65, make: () => track([{ r: wDrsA, color: "rgba(70,155,90,0.2)" }, { r: wDrsB, color: "rgba(60,150,80,0.32)" }, { r: wDrsC, color: "rgba(40,130,60,0.65)" }], -22, 59, [0,20,40], false) },
  { left: 78, top: 922.7, w: 560, h: 80, make: () => track([{ r: lDrsA, color: "rgba(235,80,100,0.28)" }, { r: lDrsB, color: "rgba(225,40,70,0.7)" }], -23, 59.5, [0,20,40], true) },
  { left: 78, top: 1002, w: 560, h: 16, make: chartGene },
];

/* ---------- DOM text ---------- */
function T(p: { x: number; y: number; s: number; c?: string; r?: number; a?: "start" | "middle"; f?: string; sx?: number; children: React.ReactNode }) {
  const tx = p.a === "middle" ? "-50%" : "0";
  return (
    <div style={{
      position: "absolute", left: p.x, top: p.y, fontSize: p.s, color: p.c || "#1a1a1a", lineHeight: 1, whiteSpace: "nowrap",
      fontFamily: p.f || '"Liberation Sans", Arial, sans-serif',
      transformOrigin: p.sx ? "left center" : "center",
      transform: `translate(${tx},-50%)${p.r ? ` rotate(${p.r}deg)` : ""}${p.sx ? ` scaleX(${p.sx})` : ""}`,
    }}>{p.children}</div>
  );
}
const Box = (p: { x: number; y: number; w: number; h: number; bg: string }) => (
  <div style={{ position: "absolute", left: p.x, top: p.y, width: p.w, height: p.h, background: p.bg }} />
);
const Shape = (p: { x: number; y: number; kind: "c" | "s" | "t" }) => (
  <svg style={{ position: "absolute", left: p.x - 4, top: p.y - 4 }} width={8} height={8}>
    {p.kind === "c" && <circle cx={4} cy={4} r={1.8} fill="none" stroke="#555" strokeWidth={0.7} />}
    {p.kind === "s" && <rect x={2.4} y={2.4} width={3.2} height={3.2} fill="none" stroke="#555" strokeWidth={0.7} />}
    {p.kind === "t" && <path d="M4 1.2 L6.8 6.2 L1.2 6.2 Z" fill="none" stroke="#555" strokeWidth={0.7} />}
  </svg>
);
const DEJAVU = '"DejaVu Sans", sans-serif';
const posterTicks = (xs: number[], ls: string[], y: number) => xs.map((x, i) => <T key={i} x={x} y={y} s={5.6} a="middle" c="#222">{ls[i]}</T>);

export default function App() {
  const refs = useRef<(HTMLCanvasElement | null)[]>([]);
  const dRing = useRef<HTMLCanvasElement | null>(null);
  const dDots = useRef<HTMLCanvasElement | null>(null);
  useEffect(() => {
    const cs: Chart[] = specs.map((s, i) => new Chart(refs.current[i] as any, s.make()));
    cs.push(new Chart(dRing.current as any, chartD() as any));
    cs.push(new Chart(dDots.current as any, chartDDots() as any));
    return () => cs.forEach((c) => c.destroy());
  }, []);
  return (
    <div style={{ position: "absolute", left: 0, top: 0, width: 707, height: 1016, overflow: "hidden", background: "#fff", filter: "blur(0.35px)" }}>
      {specs.map((s, i) => (
        <canvas key={i} ref={(el) => { refs.current[i] = el; }} width={s.w} height={s.h} style={{ position: "absolute", left: s.left, top: s.top }} />
      ))}
      <div style={{ position: "absolute", left: 347, top: 298.7, width: 360, height: 360, transform: "scaleX(1.05)", transformOrigin: "center" }}>
        <canvas ref={dRing} width={360} height={360} style={{ position: "absolute", left: 0, top: 0 }} />
        <canvas ref={dDots} width={360} height={360} style={{ position: "absolute", left: 0, top: 0 }} />
      </div>

      {/* panel letters */}
      <T x={2} y={19} s={34} f={DEJAVU} c="#000">A</T>
      <T x={361} y={18} s={34} f={DEJAVU} c="#000">B</T>
      <T x={3} y={325} s={34} f={DEJAVU} c="#000">C</T>
      <T x={351} y={357} s={34} f={DEJAVU} c="#000">D</T>
      <T x={38} y={725} s={38} f={DEJAVU} c="#000" sx={0.8}>E</T>

      {/* A text */}
      <T x={206} y={7} s={10.5} a="middle">Gene ontology analysis</T>
      <T x={222} y={332.5} s={8.5} a="middle">Counts</T>
      <T x={4} y={166} s={8.6} a="middle" r={-90}>Gene ontology (GO) terms</T>
      <T x={308} y={130} s={8.6}>adj_pval</T>
      <Box x={308} y={138.3} w={14} h={69} bg={`linear-gradient(to top, ${viridisStops.join(",")})`} />
      {[["0.04", 143.3], ["0.03", 161.3], ["0.02", 179.3], ["0.01", 197.3]].map(([l, y]) => (
        <T key={l as string} x={326.5} y={y as number} s={6.8} c="#333">{l}</T>
      ))}

      {/* B text */}
      <T x={435.3} y={30} s={7.3} c="#7B1F25">R =0.6, p-value =3.89e-07,</T>
      <T x={435.3} y={39.3} s={7.3} c="#7B1F25">95% conf.int =0.41;0.75</T>
      <T x={551} y={301} s={7.2} a="middle" c="#333">Nanopore (log2FoldChange)</T>
      <T x={391} y={147} s={7.2} a="middle" r={-90} c="#333">Illumina (log2FoldChange)</T>

      {/* C text */}
      <T x={146} y={667} s={8.6} a="middle" c="#333">log2(Mean of normalized counts)</T>
      <T x={14} y={498} s={8.4} a="middle" r={-90} c="#333">log2FoldChange</T>
      <T x={274} y={434} s={8.6} c="#333">Expression</T>
      <Shape x={280.7} y={449.3} kind="c" /><T x={291.7} y={449.3} s={7} c="#333">Downregulate</T>
      <Shape x={280.7} y={462.7} kind="s" /><T x={291.7} y={462.7} s={7} c="#333">No significant</T>
      <Shape x={280.7} y={476} kind="t" /><T x={291.7} y={476} s={7} c="#333">Upregulated</T>
      <T x={274} y={504} s={8.6} c="#333">Transcripts</T>
      {[["DELs", "#86D08C", 519], ["DETs", "#C96C70", 532.7], ["No significant", "#8E8E8E", 546], ["OtherRNA", "#7474C8", 559.7]].map(([l, c, y]) => (
        <React.Fragment key={l as string}>
          <Box x={277} y={(y as number) - 3.5} w={7} h={7} bg={c as string} />
          <T x={291.7} y={y as number} s={7} c="#333">{l}</T>
        </React.Fragment>
      ))}

      {/* D legend */}
      <T x={347.3} y={665.7} s={7.8}>Intersected DETs</T>
      <Box x={347.3} y={671} w={48} h={6.7} bg="linear-gradient(to right,#0000ff,#ffffff 50%,#ff0000)" />
      {posterTicks([348.3, 358.3, 371.7, 381.7, 393.3], ["-1", "-0.5", "0", "0.5", "1"], 681.5)}
      <T x={412.3} y={665.7} s={7.8}>Nanopore DETs</T>
      <Box x={412.7} y={671} w={47.3} h={6.7} bg="linear-gradient(to right,#00ff00,#ffffff 50%,#ff0000)" />
      {posterTicks([413.3, 425, 436, 447.3, 458.3], ["-1", "-0.5", "0", "0.5", "1"], 681.5)}
      <T x={473.7} y={665.7} s={7.8}>log2FC</T>
      <Box x={476} y={673} w={2} h={2} bg="#0a0ad0" /><T x={481.7} y={674} s={5.8}>Down</T>
      <Box x={476} y={679.7} w={2} h={2} bg="#e01010" /><T x={481.7} y={680.7} s={5.8}>Up</T>
      <T x={504} y={665.7} s={7.8}>padj</T>
      <Box x={504} y={671} w={112} h={6.7} bg="linear-gradient(to right,#cdcdcd,#1e1e1e)" />
      {posterTicks([505, 523.3, 541.3, 560, 578.3, 596, 614.3], ["5e-2", "1e-3", "1e-4", "1e-5", "1e-6", "1e-7", "1e-8"], 681.5)}
      <T x={621} y={665.7} s={7.8}>Transcripts</T>
      <Box x={621} y={671} w={6.3} h={6.3} bg="#800080" /><T x={629} y={674.3} s={5.6}>DETs</T>
      <Box x={646.7} y={671} w={6.3} h={6.3} bg="#C8A400" /><T x={654.3} y={674.3} s={5.6}>OtherRNA</T>
      <Box x={684.3} y={671} w={6.3} h={6.3} bg="#4F94CD" /><T x={692} y={674.3} s={5.6}>DELs</T>

      {/* E text */}
      <T x={83} y={741} s={4.9} a="middle" r={-90} c="#333">Water form 585</T>
      <T x={83} y={808} s={4.9} a="middle" r={-90} c="#333">Land form 585</T>
      <T x={83} y={881} s={4.9} a="middle" r={-90} c="#333">Water form directRNA</T>
      <T x={83} y={950} s={4.9} a="middle" r={-90} c="#333">Land form directRNA</T>
      <T x={74} y={1009} s={12.5} f='"Open Sans", sans-serif' c="#111" sx={0.92}>e*g2.1430</T>
    </div>
  );
}
